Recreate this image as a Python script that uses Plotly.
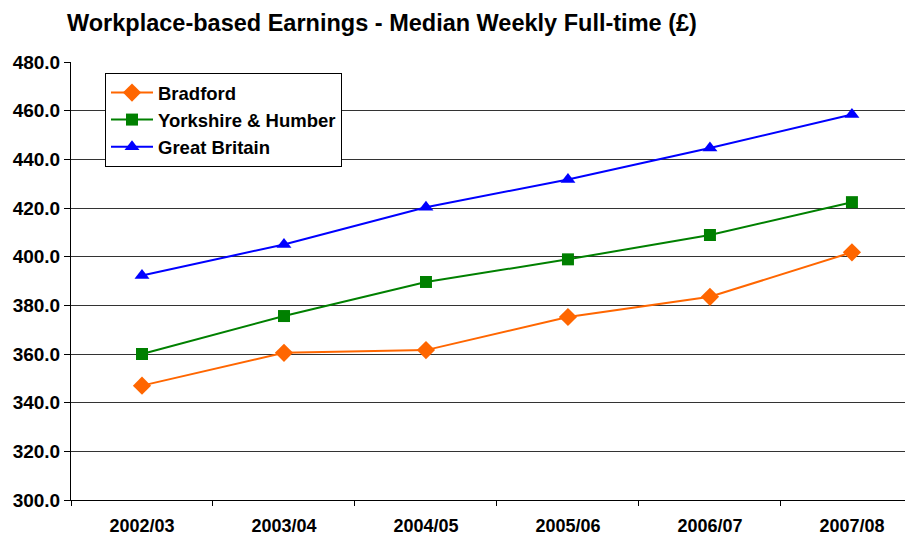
import plotly.graph_objects as go

years = ["2002/03", "2003/04", "2004/05", "2005/06", "2006/07", "2007/08"]
bradford = [347.0, 360.5, 361.6, 375.2, 383.5, 401.8]
yorkshire = [360.0, 375.6, 389.6, 398.9, 408.9, 422.4]
great_britain = [392.3, 405.0, 420.3, 431.7, 444.7, 458.4]
y_ticks = [300, 320, 340, 360, 380, 400, 420, 440, 460, 480]

FONT = "Arial, Liberation Sans, sans-serif"
# page has an 8px body margin, so the figure is drawn 8px smaller and offset
OFF = 8
W, H = 913 - OFF, 536 - OFF

fig = go.Figure()
series = [
    ("Bradford", bradford, "#FF6600", "diamond", 14),
    ("Yorkshire & Humber", yorkshire, "#008000", "square", 12),
    ("Great Britain", great_britain, "#0000FF", "triangle-up", 13),
]
for i, (name, vals, col, sym, sz) in enumerate(series):
    fig.add_trace(go.Scatter(
        x=years, y=vals, name=f"<b>{name}</b>", mode="lines+markers",
        line=dict(color=col, width=2),
        marker=dict(symbol=sym, size=sz, color=col),
        legendgroup=f"g{i}",
    ))

fig.update_layout(
    width=W, height=H,
    margin=dict(l=71 - OFF, r=0, t=62 - OFF, b=36, autoexpand=False),
    paper_bgcolor="white", plot_bgcolor="white",
    font=dict(family=FONT, size=17, color="black"),
    title=dict(text="<b>Workplace-based Earnings - Median Weekly Full-time (£)</b>",
               x=(67 - OFF) / W, xanchor="left", xref="container",
               y=1 - (23 - OFF) / H, yanchor="middle", yref="container",
               font=dict(size=23.5, family=FONT, color="black")),
    showlegend=True,
    legend=dict(x=(105 - 71) / 842, xanchor="left", y=1 - (73 - 62) / 438, yanchor="top",
                bgcolor="white", bordercolor="black", borderwidth=1,
                font=dict(size=18.5, family=FONT, color="black"),
                itemwidth=42,
                traceorder="grouped", tracegroupgap=0),
)
fig.update_xaxes(
    type="category", range=[-0.5, 5.43], automargin=False,
    showline=True, linecolor="black", linewidth=1,
    ticks="outside", tickson="boundaries", ticklen=5, tickcolor="black",
    ticklabelstandoff=9,
    tickfont=dict(size=18, family=FONT, color="black"),
    tickvals=years, ticktext=[f"<b>{y}</b>" for y in years],
    showgrid=False,
)
fig.update_yaxes(
    range=[300, 480], tickvals=y_ticks, automargin=False,
    ticktext=[f"<b>{v:.1f}</b>" for v in y_ticks],
    showline=True, linecolor="black", linewidth=1,
    ticks="outside", ticklen=6, tickcolor="black",
    showgrid=True, gridcolor="#333333", gridwidth=1,
    zeroline=False,
    tickfont=dict(size=19, family=FONT, color="black"),
)
fig.write_html("out.html")
